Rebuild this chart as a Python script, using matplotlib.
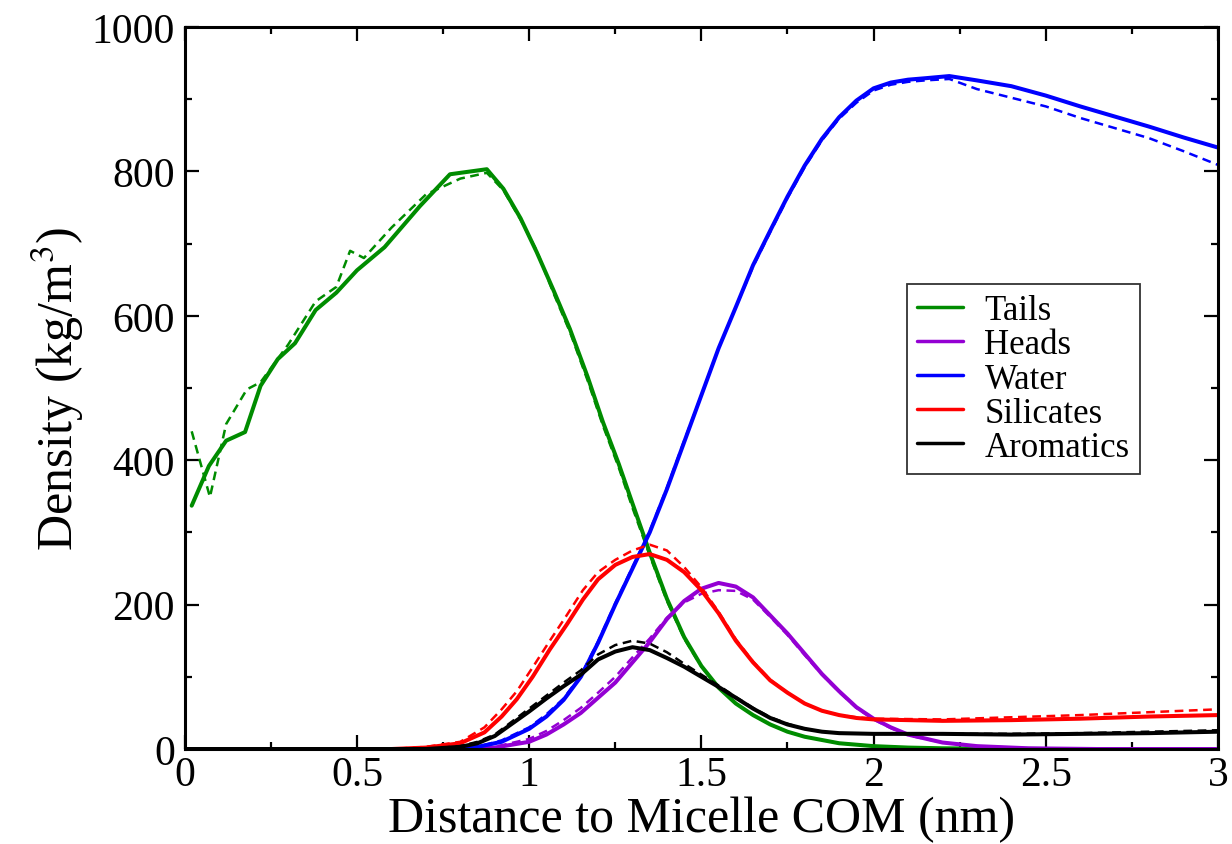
#!/usr/bin/env python3
"""
Density profiles around the micelle centre of mass (Grace-style figure).
"""

import matplotlib
matplotlib.use("Agg")
import matplotlib.pyplot as plt
from matplotlib.ticker import MultipleLocator

# --- data (x in nm, density in kg/m^3) ---
tails_x = [0.02, 0.07, 0.12, 0.175, 0.22, 0.27, 0.32, 0.38, 0.44, 0.50, 0.58, 0.683,
           0.77, 0.877, 0.925, 0.975, 1.022, 1.07, 1.118, 1.17, 1.214, 1.26, 1.30, 1.35,
           1.40, 1.45, 1.50, 1.55, 1.60, 1.65, 1.70, 1.75, 1.80, 1.90, 2.00, 2.10,
           2.20, 2.50, 3.00]
tails_y = [337, 392, 427, 439, 503, 540, 562, 608, 632, 663, 695, 752,
           796, 803, 776, 735, 688, 636, 582, 515, 453, 395, 340, 272,
           208, 155, 115, 85, 63, 47, 34, 24, 17, 8, 4, 2,
           1, 0, 0]
tails_dash_x = [0.02, 0.073, 0.12, 0.18, 0.22, 0.30, 0.38, 0.44, 0.48, 0.52, 0.60, 0.70,
                0.80, 0.877, 0.925, 0.975, 1.022, 1.07, 1.118, 1.17, 1.214, 1.26, 1.30, 1.35,
                1.40, 1.45, 1.50, 1.55, 1.60, 1.65, 1.70, 1.75, 1.80, 1.90, 2.00, 2.10,
                2.20, 2.50, 3.00]
tails_dash_y = [440, 349, 450, 498, 508, 560, 620, 640, 690, 680, 722, 768,
                790, 798, 774, 733, 690, 632, 578, 510, 448, 390, 334, 268,
                205, 153, 114, 85, 63, 47, 34, 24, 17, 8, 4, 2,
                1, 0, 0]

heads_x = [0.0, 0.8, 0.9, 1.00, 1.05, 1.10, 1.15, 1.20, 1.25, 1.30, 1.35, 1.40,
           1.45, 1.50, 1.55, 1.60, 1.65, 1.70, 1.75, 1.80, 1.85, 1.90, 1.95, 2.00,
           2.05, 2.10, 2.20, 2.30, 2.45, 2.65, 3.00]
heads_y = [0, 0, 2, 10, 20, 34, 50, 71, 92, 120, 148, 180,
           205, 222, 230, 225, 210, 185, 160, 132, 104, 80, 58, 42,
           30, 20, 9, 4, 1, 0, 0]
heads_dash_x = [0.0, 0.8, 0.9, 1.00, 1.05, 1.10, 1.15, 1.20, 1.25, 1.30, 1.35, 1.40,
                1.45, 1.50, 1.55, 1.60, 1.65, 1.70, 1.75, 1.80, 1.85, 1.90, 1.95, 2.00,
                2.05, 2.10, 2.20, 2.30, 2.45, 2.65, 3.00]
heads_dash_y = [0, 0, 3, 14, 25, 40, 57, 78, 100, 127, 153, 182,
                203, 215, 220, 219, 207, 183, 158, 130, 103, 79, 57, 41,
                29, 19, 9, 4, 1, 0, 0]

water_x = [0.0, 0.75, 0.85, 0.92, 1.00, 1.05, 1.10, 1.15, 1.20, 1.25, 1.30, 1.35,
           1.40, 1.45, 1.50, 1.55, 1.60, 1.65, 1.70, 1.75, 1.80, 1.85, 1.90, 1.95,
           2.00, 2.05, 2.10, 2.15, 2.22, 2.30, 2.40, 2.50, 2.60, 2.70, 2.80, 2.90, 3.00]
water_y = [0, 0, 3, 10, 28, 45, 68, 100, 147, 200, 250, 300,
           360, 425, 490, 555, 612, 670, 718, 765, 808, 845, 875, 898,
           915, 923, 927, 929, 932, 926, 918, 905, 890, 876, 862, 847, 833]
water_dash_x = [0.0, 0.75, 0.85, 0.92, 1.00, 1.05, 1.10, 1.15, 1.20, 1.25, 1.30, 1.35,
                1.40, 1.45, 1.50, 1.55, 1.60, 1.65, 1.70, 1.75, 1.80, 1.85, 1.90, 1.95,
                2.00, 2.05, 2.10, 2.15, 2.22, 2.30, 2.40, 2.50, 2.60, 2.70, 2.80, 2.90, 3.00]
water_dash_y = [0, 0, 3, 12, 30, 48, 70, 102, 149, 202, 252, 302,
                362, 427, 490, 555, 612, 668, 716, 763, 806, 843, 873, 895,
                912, 920, 924, 926, 928, 914, 902, 890, 874, 860, 846, 828, 809]

silicates_x = [0.0, 0.6, 0.70, 0.80, 0.87, 0.92, 0.964, 1.01, 1.06, 1.11, 1.156, 1.20,
               1.25, 1.30, 1.35, 1.40, 1.45, 1.50, 1.55, 1.60, 1.65, 1.70, 1.75, 1.80,
               1.85, 1.90, 1.95, 2.00, 2.20, 2.40, 2.60, 2.80, 3.00]
silicates_y = [0, 0, 2, 8, 23, 45, 69, 100, 138, 173, 207, 235,
               255, 266, 270, 262, 245, 220, 188, 150, 120, 95, 78, 63,
               53, 47, 43, 41, 39, 40, 42, 45, 47]
silicates_dash_x = [0.0, 0.6, 0.70, 0.80, 0.87, 0.92, 0.964, 1.01, 1.06, 1.11, 1.156, 1.20,
                    1.25, 1.30, 1.35, 1.40, 1.45, 1.50, 1.55, 1.60, 1.65, 1.70, 1.75, 1.80,
                    1.85, 1.90, 1.95, 2.00, 2.20, 2.40, 2.60, 2.80, 3.00]
silicates_dash_y = [0, 0, 3, 10, 30, 55, 80, 113, 150, 186, 220, 245,
                    262, 275, 283, 275, 252, 224, 190, 152, 121, 96, 78, 63,
                    53, 47, 44, 42, 41, 44, 47, 51, 55]

aromatics_x = [0.0, 0.7, 0.80, 0.85, 0.90, 0.95, 1.00, 1.05, 1.10, 1.15, 1.20, 1.25,
               1.30, 1.35, 1.40, 1.45, 1.50, 1.55, 1.60, 1.65, 1.70, 1.75, 1.80, 1.85,
               1.90, 2.00, 2.20, 2.40, 2.60, 2.80, 3.00]
aromatics_y = [0, 0, 3, 8, 18, 35, 52, 70, 87, 103, 124, 135,
               141, 137, 126, 114, 100, 86, 71, 56, 43, 34, 28, 24,
               22, 21, 21, 20, 21, 22, 24]
aromatics_dash_x = [0.0, 0.7, 0.80, 0.85, 0.90, 0.95, 1.00, 1.05, 1.10, 1.15, 1.20, 1.25,
                    1.30, 1.35, 1.40, 1.45, 1.50, 1.55, 1.60, 1.65, 1.70, 1.75, 1.80, 1.85,
                    1.90, 2.00, 2.20, 2.40, 2.60, 2.80, 3.00]
aromatics_dash_y = [0, 0, 4, 10, 20, 38, 56, 74, 92, 109, 131, 144,
                    150, 146, 134, 118, 103, 88, 72, 57, 44, 35, 28, 24,
                    22, 21, 21, 21, 22, 24, 26]

SERIES = [
    ("Tails", "#008c00", tails_x, tails_y, tails_dash_x, tails_dash_y),
    ("Heads", "#9400d3", heads_x, heads_y, heads_dash_x, heads_dash_y),
    ("Water", "#0000ff", water_x, water_y, water_dash_x, water_dash_y),
    ("Silicates", "#ff0000", silicates_x, silicates_y, silicates_dash_x, silicates_dash_y),
    ("Aromatics", "#000000", aromatics_x, aromatics_y, aromatics_dash_x, aromatics_dash_y),
]

plt.rcParams["font.family"] = ["Liberation Serif", "DejaVu Serif"]
plt.rcParams["mathtext.fontset"] = "stix"


def main() -> None:
    fig = plt.figure(figsize=(12.32, 8.45), dpi=100)
    ax = fig.add_axes([0.150, 0.1124, 0.8386, 0.8545])

    for name, color, xs, ys, xd, yd in SERIES:
        ax.plot(xd, yd, color=color, linewidth=1.8, linestyle=(0, (3.5, 2.2)),
                solid_joinstyle="round")
        ax.plot(xs, ys, color=color, linewidth=2.9, label=name,
                solid_joinstyle="round", solid_capstyle="round")

    ax.set_xlim(0, 3)
    ax.set_ylim(0, 1000)
    ax.set_xticks([0, 0.5, 1, 1.5, 2, 2.5, 3])
    ax.set_xticklabels(["0", "0.5", "1", "1.5", "2", "2.5", "3"])
    ax.xaxis.set_minor_locator(MultipleLocator(0.25))
    ax.yaxis.set_major_locator(MultipleLocator(200))
    ax.yaxis.set_minor_locator(MultipleLocator(100))

    ax.tick_params(which="both", direction="in", top=True, right=True,
                   width=1.6, labelsize=30, pad=7)
    ax.tick_params(axis="x", which="major", pad=5)
    ax.tick_params(which="major", length=10)
    ax.tick_params(which="minor", length=5)
    for spine in ax.spines.values():
        spine.set_linewidth(2.2)

    ax.set_xlabel("Distance to Micelle COM (nm)", fontsize=36, labelpad=1)
    ax.set_ylabel("Density (kg/m$^{3}$)", fontsize=36, labelpad=4)

    leg = ax.legend(loc="upper left", bbox_to_anchor=(0.699, 0.644), fontsize=25,
                    frameon=True, fancybox=False, edgecolor="black",
                    handlelength=1.3, handletextpad=0.63, borderpad=0.3,
                    borderaxespad=0, labelspacing=0.03)
    leg.get_frame().set_linewidth(1.3)
    for line in leg.get_lines():
        line.set_linewidth(2.5)

    fig.savefig("out.png", dpi=100)
    plt.close(fig)


if __name__ == "__main__":
    main()
